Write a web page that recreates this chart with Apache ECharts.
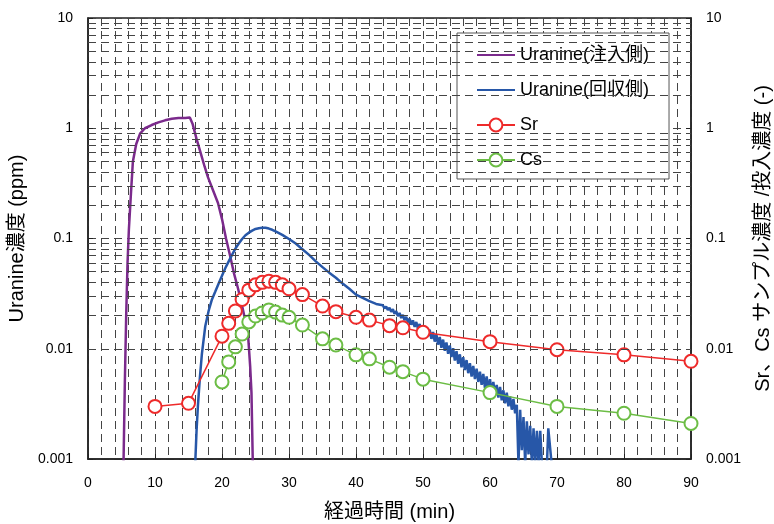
<!DOCTYPE html>
<html>
<head>
<meta charset="utf-8">
<script src="https://cdn.jsdelivr.net/npm/echarts@6/dist/echarts.min.js"></script>
<style>
  html, body { margin: 0; padding: 0; background: #fff; }
  #chart { width: 774px; height: 524px; }
</style>
</head>
<body>
<div id="chart"></div>
<script>
// 経過時間 (min) と Uranine濃度 (ppm) ― 注入側
const injTime = [5.3, 5.5, 5.7, 5.9, 6.1, 6.4, 6.7, 7.2, 7.8, 8.5, 9.5, 10.5, 11.5, 12.5, 13.5, 14.5, 15.2,
  15.6, 16.2, 16.8, 17.4, 17.9, 18.6, 19.4, 20.0, 20.6, 21.2, 21.8, 22.4, 22.9, 23.4, 23.9, 24.2, 24.4, 24.6]
const injConc = [0.0009, 0.005, 0.02, 0.06, 0.12, 0.25, 0.5, 0.72, 0.9, 1.0, 1.07, 1.13, 1.18, 1.22, 1.24, 1.24, 1.25,
  1.1, 0.8, 0.6, 0.45, 0.36, 0.28, 0.21, 0.15, 0.1, 0.07, 0.048, 0.035, 0.026, 0.019, 0.013, 0.007, 0.004, 0.0009]

// 回収側
const recTime = [16.0, 16.2, 16.4, 16.7, 17.0, 17.5, 18.0, 18.5, 19.0, 19.5, 20.0, 20.5, 21.0, 21.5, 22.0, 22.5,
  23.0, 23.5, 24.0, 24.5, 25.0, 25.5, 26.0, 26.5, 27.0, 27.5, 28.0, 29.0, 30.0, 31.0, 32.0, 33.0, 34.0, 35.0,
  36.0, 37.0, 38.0, 39.0, 40.0, 41.0, 42.0, 43.0,
  44.0, 44.25, 44.5, 44.75, 45.0, 45.25, 45.5, 45.75, 46.0, 46.25, 46.5, 46.75, 47.0, 47.25, 47.5, 47.75,
  48.0, 48.25, 48.5, 48.75, 49.0, 49.25, 49.5, 49.75, 50.0, 50.25, 50.5, 50.75, 51.0, 51.25, 51.5, 51.75,
  52.0, 52.25, 52.5, 52.75, 53.0, 53.25, 53.5, 53.75, 54.0, 54.25, 54.5, 54.75, 55.0, 55.25, 55.5, 55.75,
  56.0, 56.25, 56.5, 56.75, 57.0, 57.25, 57.5, 57.75, 58.0, 58.25, 58.5, 58.75, 59.0, 59.25, 59.5, 59.75,
  60.0, 60.25, 60.5, 60.75, 61.0, 61.25, 61.5, 61.75, 62.0, 62.25, 62.5, 62.75, 63.0, 63.25, 63.5, 63.75,
  64.0, 64.25, 64.5, 64.75, 65.0, 65.25, 65.5, 65.75, 66.0, 66.25, 66.5, 66.75, 67.0, 67.25, 67.5, 67.75,
  68.0, 68.5, 68.7, 69.2]
const recConc = [0.0009, 0.0018, 0.003, 0.0055, 0.009, 0.016, 0.022, 0.028, 0.033, 0.039, 0.046, 0.054, 0.062, 0.071, 0.081, 0.09,
  0.099, 0.107, 0.113, 0.118, 0.122, 0.124, 0.125, 0.125, 0.123, 0.12, 0.116, 0.108, 0.099, 0.09, 0.08, 0.071, 0.062, 0.055,
  0.049, 0.044, 0.039, 0.035, 0.031, 0.029, 0.027, 0.0255,
  0.0248, 0.0232, 0.0242, 0.0225, 0.0236, 0.0216, 0.0228, 0.0208, 0.0219, 0.0198, 0.0211, 0.019, 0.0203, 0.0181, 0.0195, 0.0173,
  0.0188, 0.0165, 0.0181, 0.0158, 0.0175, 0.0151, 0.0168, 0.0144, 0.0162, 0.0137, 0.0156, 0.013, 0.0149, 0.0123, 0.0142, 0.0116,
  0.0135, 0.0109, 0.0128, 0.0102, 0.0121, 0.0096, 0.0114, 0.009, 0.0107, 0.0084, 0.0101, 0.0078, 0.0095, 0.0073, 0.0089, 0.0068,
  0.0084, 0.0064, 0.0079, 0.006, 0.0074, 0.0056, 0.007, 0.0053, 0.0066, 0.005, 0.0062, 0.0047, 0.0059, 0.0044, 0.0056, 0.0042,
  0.0053, 0.004, 0.005, 0.0038, 0.0047, 0.0036, 0.0045, 0.0034, 0.0042, 0.0032, 0.004, 0.003, 0.0037, 0.0028, 0.0035, 0.0026,
  0.0031, 0.0009, 0.0028, 0.0012, 0.0024, 0.0009, 0.0022, 0.0011, 0.002, 0.0009, 0.0019, 0.0009, 0.0018, 0.0009, 0.0018, 0.0009,
  0.0009, 0.0009, 0.0019, 0.0009]

// Sr、Cs サンプル濃度 /投入濃度 (-)
const srTime = [10, 15, 20, 21, 22, 23, 24, 25, 26, 27, 28, 29, 30, 32, 35, 37, 40, 42, 45, 47, 50, 60, 70, 80, 90]
const srConc = [0.003, 0.0032, 0.013, 0.017, 0.022, 0.028, 0.034, 0.038, 0.04, 0.041, 0.04, 0.038, 0.035, 0.031,
  0.0244, 0.0217, 0.0193, 0.0182, 0.0162, 0.0155, 0.0141, 0.0116, 0.0098, 0.0088, 0.0077]
const csTime = [20, 21, 22, 23, 24, 25, 26, 27, 28, 29, 30, 32, 35, 37, 40, 42, 45, 47, 50, 60, 70, 80, 90]
const csConc = [0.005, 0.0076, 0.0104, 0.0136, 0.0175, 0.0198, 0.0211, 0.0225, 0.0215, 0.0202, 0.0193, 0.0164,
  0.0123, 0.0108, 0.0088, 0.0081, 0.0068, 0.0062, 0.0053, 0.004, 0.003, 0.0026, 0.0021]

// 対数目盛の補助線 (2〜9 × 10^n)
const minorLevels = [0.001, 0.01, 0.1, 1].flatMap(d => [2, 3, 4, 5, 6, 7, 8, 9].map(m => +(m * d).toPrecision(3)))

const seriesNames = ['Uranine(注入側)', 'Uranine(回収側)', 'Sr', 'Cs']
const FONT = "'Liberation Sans', 'Noto Sans CJK JP', sans-serif"

const zip = (xs, ys) => xs.map((x, i) => [x, ys[i]])
const dash = { type: [8, 5], color: '#444', width: 1 }

const chart = echarts.init(document.getElementById('chart'))

const makeYAxis = (pos, name, nameGap) => ({
  type: 'log',
  logBase: 10,
  position: pos,
  min: 0.001,
  max: 10,
  name: name,
  nameLocation: 'middle',
  nameRotate: 90,
  nameGap: nameGap,
  nameTextStyle: { fontSize: 20, color: '#000', fontFamily: FONT },
  axisLine: { show: true, lineStyle: { color: '#222', width: 1.5 } },
  axisTick: { show: true, inside: true, length: 5, lineStyle: { color: '#222' } },
  axisLabel: {
    fontSize: 14, color: '#000', fontFamily: FONT, margin: 15,
    formatter: v => String(+v.toPrecision(3))
  },
  splitLine: { show: pos === 'left', lineStyle: dash }
})

const option = {
  animation: false,
  backgroundColor: '#fff',
  textStyle: { fontFamily: FONT },
  grid: {
    left: 88, right: 83, top: 18, bottom: 65,
    outerBoundsMode: 'none',
    show: true, borderColor: '#222', borderWidth: 1.5
  },
  legend: {
    // 線だけの凡例はマーカーを隠す
    data: [
      { name: seriesNames[0], itemStyle: { opacity: 0 } },
      { name: seriesNames[1], itemStyle: { opacity: 0 } },
      { name: seriesNames[2] },
      { name: seriesNames[3] }
    ],
    orient: 'vertical',
    left: 457,
    top: 33,
    padding: [13, 20, 10, 19],
    itemWidth: 38,
    itemHeight: 16,
    itemGap: 17,
    backgroundColor: '#fff',
    borderColor: '#555',
    borderWidth: 1,
    textStyle: { fontSize: 18, color: '#000', fontFamily: FONT }
  },
  xAxis: {
    type: 'value',
    min: 0,
    max: 90,
    interval: 10,
    name: '経過時間 (min)',
    nameLocation: 'middle',
    nameGap: 43,
    nameTextStyle: { fontSize: 20, color: '#000', fontFamily: FONT },
    axisLine: { lineStyle: { color: '#222', width: 1.5 } },
    axisTick: { show: true, inside: true, length: 5, lineStyle: { color: '#222' } },
    axisLabel: { fontSize: 14, color: '#000', fontFamily: FONT, margin: 17 },
    splitLine: { show: true, lineStyle: dash },
    minorTick: { show: false, splitNumber: 5 },
    minorSplitLine: { show: true, lineStyle: dash }
  },
  yAxis: [
    makeYAxis('left', 'Uranine濃度 (ppm)', 51),
    makeYAxis('right', 'Sr、Cs サンプル濃度 /投入濃度 (-)', 62)
  ],
  series: [
    {
      name: seriesNames[0],
      type: 'line',
      yAxisIndex: 0,
      data: zip(injTime, injConc),
      symbol: 'none',
      color: '#7b2a8c',
      lineStyle: { width: 2.5 },
      z: 3,
      markLine: {
        silent: true,
        symbol: ['none', 'none'],
        label: { show: false },
        lineStyle: dash,
        emphasis: { disabled: true },
        data: minorLevels.map(v => ({ yAxis: v }))
      }
    },
    {
      name: seriesNames[1],
      type: 'line',
      yAxisIndex: 0,
      data: zip(recTime, recConc),
      symbol: 'none',
      color: '#2757a8',
      lineStyle: { width: 2.5 },
      z: 3
    },
    {
      name: seriesNames[2],
      type: 'line',
      yAxisIndex: 1,
      data: zip(srTime, srConc),
      symbol: 'emptyCircle',
      symbolSize: 13,
      color: '#ee2a2a',
      lineStyle: { width: 1.5 },
      itemStyle: { borderWidth: 1.5 },
      z: 4
    },
    {
      name: seriesNames[3],
      type: 'line',
      yAxisIndex: 1,
      data: zip(csTime, csConc),
      symbol: 'emptyCircle',
      symbolSize: 13,
      color: '#6cbd45',
      lineStyle: { width: 1.5 },
      itemStyle: { borderWidth: 1.5 },
      z: 4
    }
  ]
}

chart.setOption(option)
</script>
</body>
</html>
